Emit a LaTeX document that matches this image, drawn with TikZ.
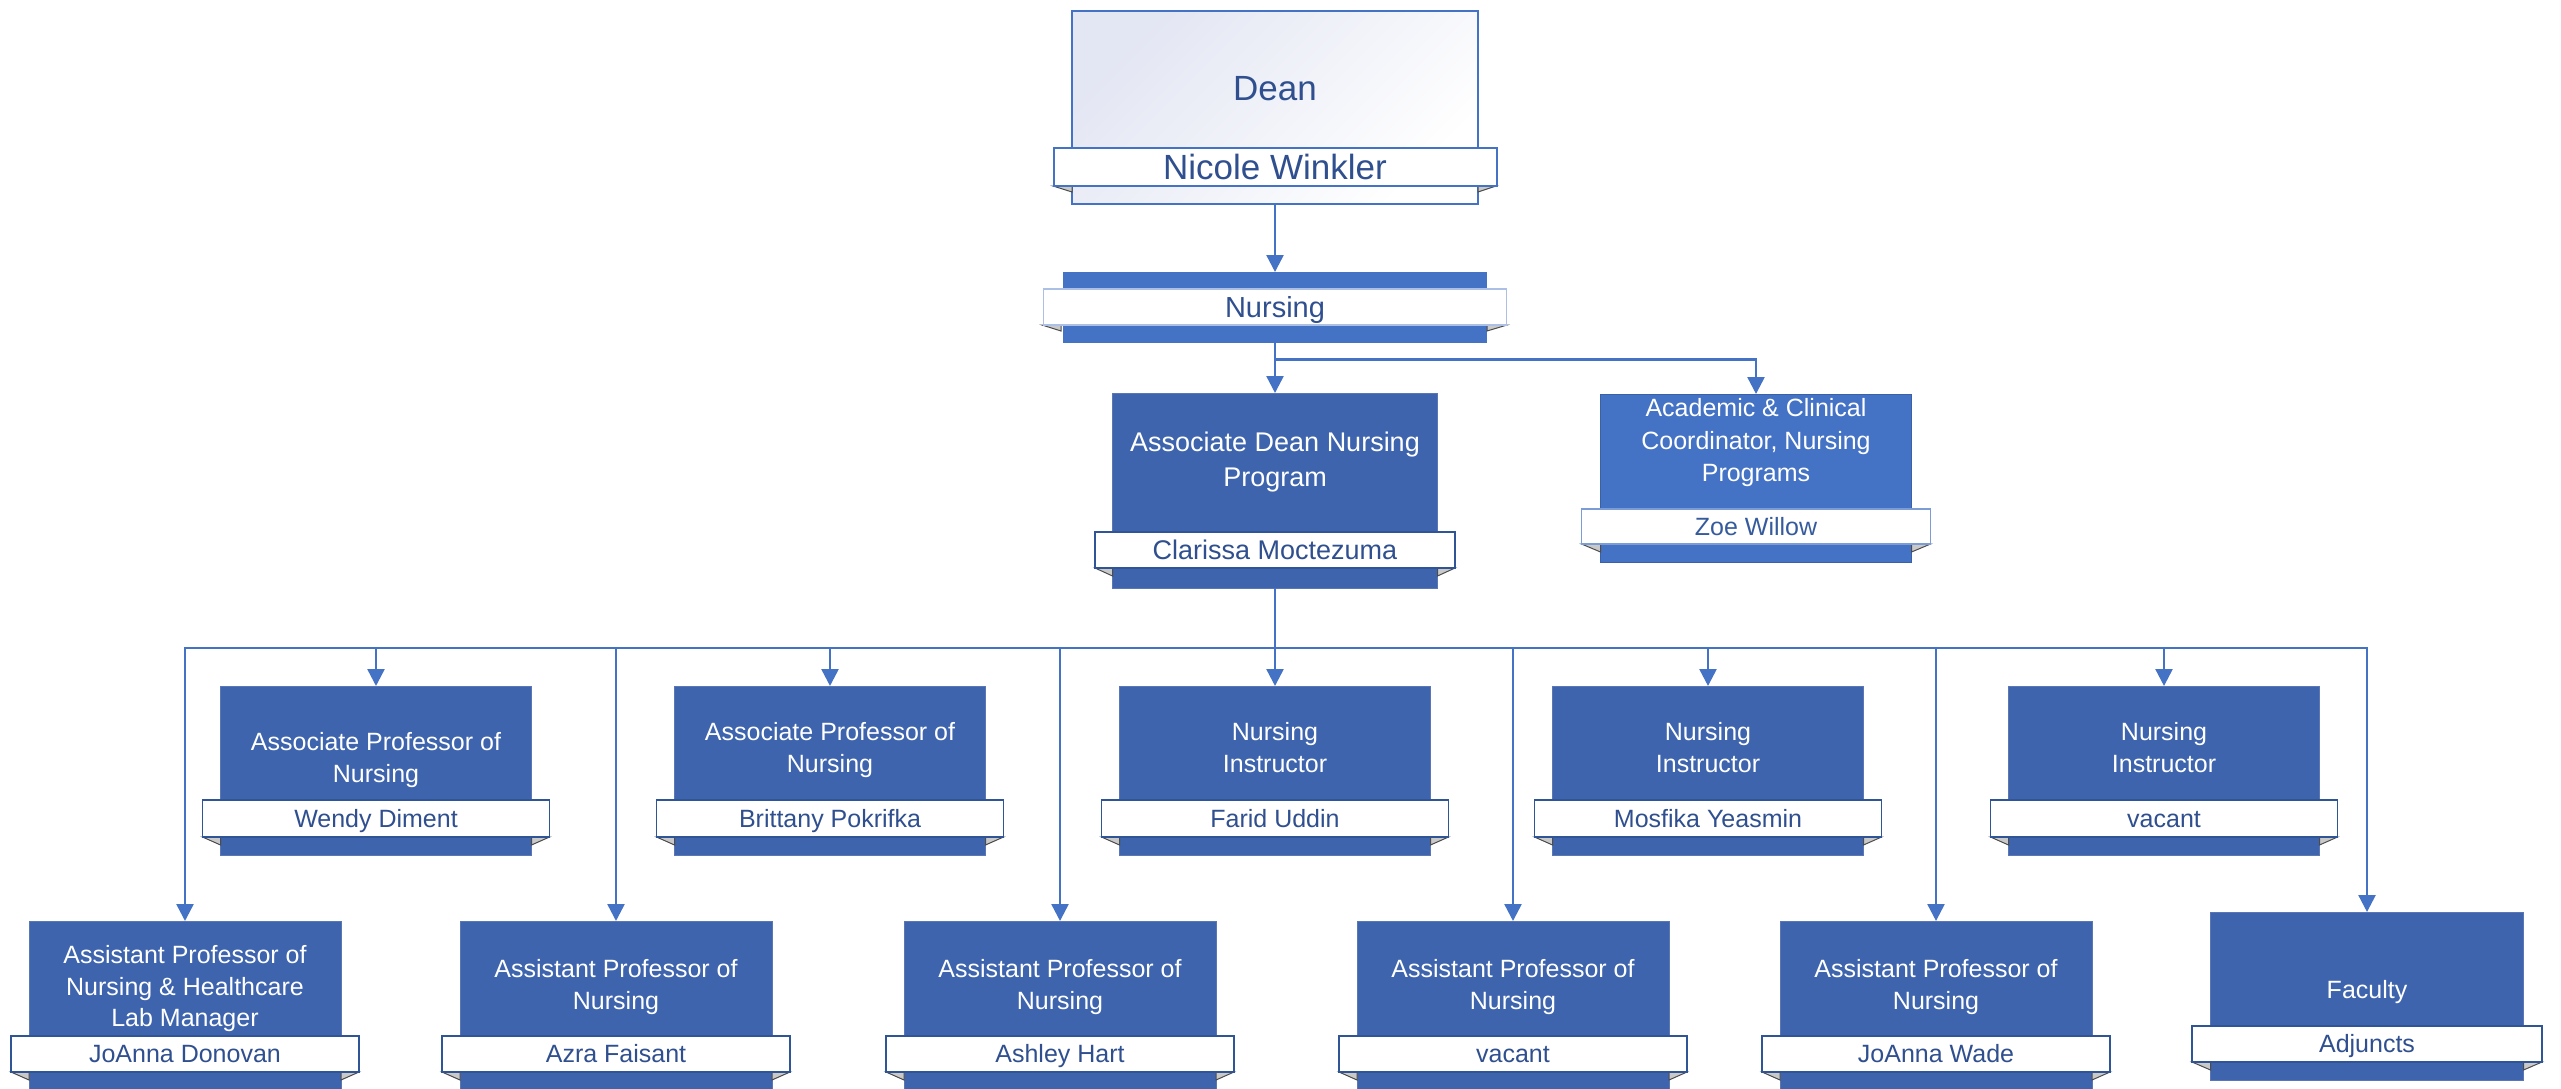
\documentclass[tikz,border=0pt]{standalone}
\usepackage{fontspec}
\setmainfont{Liberation Sans}
\usetikzlibrary{arrows.meta}
\definecolor{boxblue}{HTML}{3E64AD}
\definecolor{accent}{HTML}{4472C4}
\definecolor{namecol}{HTML}{2F4F8F}
\definecolor{bardraw}{HTML}{2F5597}
\definecolor{deanlav}{HTML}{E3E6F3}
\definecolor{foldgray}{HTML}{C9C9C9}
\definecolor{boxedge}{HTML}{5A76B4}
\newcommand\topstrutx{\rule{0pt}{0.72em}}
\newcommand\botstrutx{\rule[-0.21em]{0pt}{0.21em}}
\tikzset{
 conn/.style={draw=accent, line width=2.5pt, -{Triangle[length=17pt,width=17pt]}},
 orgbox/.style={rectangle, fill=boxblue, draw=boxedge, line width=1pt, inner sep=0pt, outer sep=0pt},
 lightbox/.style={orgbox, fill=accent, draw=accent!85!black},
 namebar/.style={rectangle, fill=white, draw=bardraw, line width=1.5pt, inner sep=0pt, outer sep=0pt},
 fold/.style={fill=foldgray, draw=black!70, line width=1pt},
 title/.style={text=white, align=center, font=\fontsize{25}{31.5}\selectfont, inner sep=0pt},
 pname/.style={text=namecol, font=\fontsize{25}{30}\selectfont, inner sep=0pt, text height=17.9pt, text depth=0pt},
 bigname/.style={pname, font=\fontsize{35}{40}\selectfont, text height=25pt},
}
\newcommand\setrow[6]{\def\rtop{#1}\def\rh{#2}\def\rw{#3}\def\btop{#4}\def\bh{#5}\def\bw{#6}}
% #1 id, #2 cx, #3 box style, #4 title y, #5 title, #6 name
\newcommand\orgunit[6]{%
 \node[#3, minimum width=\rw pt, minimum height=\rh pt, anchor=north] (#1) at (#2,\rtop) {};
 \filldraw[fold] ({#2-\bw/2},{\btop+\bh}) -- ({#2-\rw/2},{\btop+\bh}) -- ({#2-\rw/2},{\btop+\bh+8}) -- cycle;
 \filldraw[fold] ({#2+\bw/2},{\btop+\bh}) -- ({#2+\rw/2},{\btop+\bh}) -- ({#2+\rw/2},{\btop+\bh+8}) -- cycle;
 \node[namebar, minimum width=\bw pt, minimum height=\bh pt, anchor=north] (#1-bar) at (#2,\btop) {};
 \node[title] (#1-title) at (#2,#4) {\topstrutx #5\botstrutx};
 \node[pname] (#1-name) at (#1-bar.center) {#6};
}
\begin{document}
\begin{tikzpicture}[x=1pt,y=-1pt]
\useasboundingbox (0,0) rectangle (2561,1089);
\clip (0,0) rectangle (2561,1089);

% Dean
\node[rectangle, draw=accent, line width=2pt, top color=deanlav, bottom color=white, shading angle=45, minimum width=406pt, minimum height=193pt, anchor=north, inner sep=0pt] (dean) at (1275,10) {};
\filldraw[fold] (1053,186) -- (1072,186) -- (1072,192) -- cycle;
\filldraw[fold] (1496,186) -- (1478,186) -- (1478,192) -- cycle;
\node[namebar, draw=accent, line width=2pt, minimum width=443pt, minimum height=38pt, anchor=north] (dean-bar) at (1275,148) {};
\node[bigname] (dean-title) at (1275,88) {Dean};
\node[bigname] (dean-name) at (dean-bar.center) {Nicole Winkler};

% Nursing
\node[rectangle, fill=accent, minimum width=424pt, minimum height=71pt, anchor=north, inner sep=0pt] (nursing) at (1275,272) {};
\filldraw[fold] (1042,325) -- (1061,325) -- (1061,331) -- cycle;
\filldraw[fold] (1507,325) -- (1487,325) -- (1487,331) -- cycle;
\node[namebar, draw=accent!45!white, line width=1.2pt, minimum width=463pt, minimum height=36pt, anchor=north] (nursing-bar) at (1275,289) {};
\node[pname, font=\fontsize{29}{34}\selectfont, text height=20.8pt] (nursing-name) at (nursing-bar.center) {Nursing};

% Associate Dean
\setrow{393}{195}{325}{532}{36}{360}
\node[orgbox, minimum width=\rw pt, minimum height=\rh pt, anchor=north] (assoc) at (1275,\rtop) {};
\filldraw[fold] (1095,568) -- (1112.5,568) -- (1112.5,576) -- cycle;
\filldraw[fold] (1455,568) -- (1437.5,568) -- (1437.5,576) -- cycle;
\node[namebar, minimum width=\bw pt, minimum height=\bh pt, anchor=north] (assoc-bar) at (1275,\btop) {};
\node[title, font=\fontsize{27}{35}\selectfont] (assoc-title) at (1275,462) {\topstrutx Associate Dean Nursing\\Program\botstrutx};
\node[pname, font=\fontsize{27}{32}\selectfont, text height=19.3pt] (assoc-name) at (assoc-bar.center) {Clarissa Moctezuma};

% Coordinator
\setrow{394}{168}{311}{509}{35}{349}
\node[lightbox, minimum width=\rw pt, minimum height=\rh pt, anchor=north] (coord) at (1756,\rtop) {};
\filldraw[fold] (1581.5,544) -- (1600.5,544) -- (1600.5,552) -- cycle;
\filldraw[fold] (1930.5,544) -- (1911.5,544) -- (1911.5,552) -- cycle;
\node[namebar, draw=accent!70!white, line width=1.2pt, minimum width=\bw pt, minimum height=\bh pt, anchor=north] (coord-bar) at (1756,\btop) {};
\node[title, font=\fontsize{25}{32.5}\selectfont] (coord-title) at (1756,443) {\topstrutx Academic \& Clinical\\Coordinator, Nursing\\Programs\botstrutx};
\node[pname, text=accent!80!black] (coord-name) at (coord-bar.center) {Zoe Willow};

% Row 2
\setrow{686}{169}{311}{800}{37}{347}
\orgunit{wendy}{376}{orgbox}{760}{Associate Professor of\\Nursing}{Wendy Diment}
\orgunit{brittany}{830}{orgbox}{750}{Associate Professor of\\Nursing}{Brittany Pokrifka}
\orgunit{farid}{1275}{orgbox}{750}{Nursing\\Instructor}{Farid Uddin}
\orgunit{mosfika}{1708}{orgbox}{750}{Nursing\\Instructor}{Mosfika Yeasmin}
\orgunit{vacanti}{2164}{orgbox}{750}{Nursing\\Instructor}{vacant}

% Row 3
\setrow{921}{175}{312}{1036}{36}{348}
\orgunit{donovan}{185}{orgbox}{989}{Assistant Professor of\\Nursing \& Healthcare\\Lab Manager}{JoAnna Donovan}
\orgunit{azra}{616}{orgbox}{987}{Assistant Professor of\\Nursing}{Azra Faisant}
\orgunit{ashley}{1060}{orgbox}{987}{Assistant Professor of\\Nursing}{Ashley Hart}
\orgunit{vacantii}{1513}{orgbox}{987}{Assistant Professor of\\Nursing}{vacant}
\orgunit{wade}{1936}{orgbox}{987}{Assistant Professor of\\Nursing}{JoAnna Wade}
\setrow{912}{168}{313}{1026}{36}{350}
\orgunit{faculty}{2367}{orgbox}{992}{Faculty}{Adjuncts}

% Connectors
\draw[conn] (dean.south) -- (nursing.north);
\draw[conn] (nursing.south) -- (assoc.north);
\draw[conn] (nursing.south) -- ++(0,16) -| (coord.north);
\foreach \c in {wendy,brittany,farid,mosfika,vacanti,donovan,azra,ashley,vacantii,wade,faculty}
  \draw[conn] (assoc.south) -- ++(0,60) -| (\c.north);
\end{tikzpicture}
\end{document}
